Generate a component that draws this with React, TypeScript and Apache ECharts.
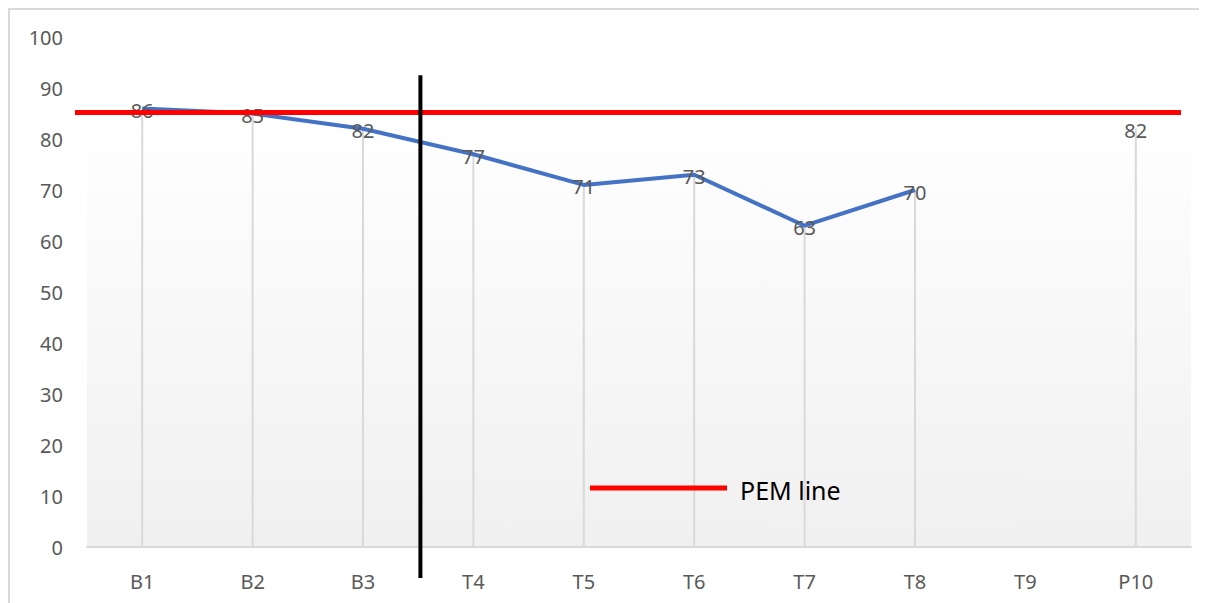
import React, { useEffect, useRef } from "react";
import * as echarts from "echarts";

const categories = ["B1", "B2", "B3", "T4", "T5", "T6", "T7", "T8", "T9", "P10"];
const scores: (number | null)[] = [86, 85, 82, 77, 71, 73, 63, 70, null, 82];
const pemValue = 85.2;
const yTicks = { min: 0, max: 100, interval: 10 };
const legendLabel = "PEM line";

export default function App() {
  const ref = useRef<HTMLDivElement>(null);
  useEffect(() => {
    if (!ref.current) return;
    const chart = echarts.init(ref.current, undefined, { renderer: "svg" });
    const font = "'Noto Sans', 'Liberation Sans', sans-serif";
    chart.setOption({
      animation: false,
      grid: {
        left: 79,
        right: 16,
        top: 29,
        bottom: 56,
        show: true,
        borderWidth: 0,
        backgroundColor: new echarts.graphic.LinearGradient(0, 0, 0, 1, [
          { offset: 0, color: "#ffffff" },
          { offset: 0.15, color: "#ffffff" },
          { offset: 1, color: "#f0f0f0" },
        ]),
      },
      xAxis: {
        type: "category",
        data: categories,
        boundaryGap: true,
        axisLine: { show: true, lineStyle: { color: "#d9d9d9", width: 2 } },
        axisTick: { show: false },
        axisLabel: { color: "#595959", fontSize: 20, fontFamily: font, margin: 24 },
        splitLine: { show: false },
      },
      yAxis: {
        type: "value",
        min: yTicks.min,
        max: yTicks.max,
        interval: yTicks.interval,
        axisLine: { show: false },
        axisTick: { show: false },
        splitLine: { show: false },
        axisLabel: { color: "#595959", fontSize: 20, fontFamily: font, margin: 24 },
      },
      series: [
        {
          type: "bar",
          data: scores,
          barWidth: 2,
          itemStyle: { color: "#d9d9d9" },
          z: 1,
          silent: true,
        },
        {
          type: "line",
          data: scores,
          connectNulls: false,
          showSymbol: true,
          symbol: "circle",
          symbolSize: 0,
          lineStyle: { color: "#4472c4", width: 4 },
          itemStyle: { color: "#4472c4" },
          label: {
            show: true,
            position: "inside",
            color: "#595959",
            fontSize: 20,
            fontFamily: font,
            offset: [0, 2],
          },
          z: 3,
        },
      ],
    });

    const p = (i: number, v: number) => chart.convertToPixel({ gridIndex: 0 }, [i, v]) as number[];
    const yPem = p(0, pemValue)[1];
    const x2 = p(2, 0)[0];
    const x3 = p(3, 0)[0];
    const xDiv = x2 + 0.52 * (x3 - x2);
    const yTop = p(0, 92.5)[1];
    const yBottom = p(0, 0)[1] + 31;

    chart.setOption({
      graphic: [
        {
          type: "line",
          shape: { x1: 0, y1: 1, x2: 1300, y2: 1 },
          style: { stroke: "#d9d9d9", lineWidth: 2 },
          z: 0,
        },
        {
          type: "line",
          shape: { x1: 1, y1: 0, x2: 1, y2: 700 },
          style: { stroke: "#d9d9d9", lineWidth: 2 },
          z: 0,
        },
        {
          type: "line",
          shape: { x1: 67, y1: yPem, x2: 1173, y2: yPem },
          style: { stroke: "#ff0000", lineWidth: 5 },
          z: 10,
        },
        {
          type: "line",
          shape: { x1: xDiv, y1: yTop, x2: xDiv, y2: yBottom },
          style: { stroke: "#000000", lineWidth: 4 },
          z: 11,
        },
        {
          type: "line",
          shape: { x1: 582, y1: 480, x2: 719, y2: 480 },
          style: { stroke: "#ff0000", lineWidth: 5 },
          z: 10,
        },
        {
          type: "text",
          x: 732,
          y: 482,
          style: {
            text: legendLabel,
            fill: "#000000",
            fontSize: 25,
            fontFamily: font,
            verticalAlign: "middle",
            align: "left",
          },
          z: 10,
        },
      ],
    });
    return () => chart.dispose();
  }, []);
  return <div ref={ref} style={{ width: 1199, height: 595 }} />;
}
